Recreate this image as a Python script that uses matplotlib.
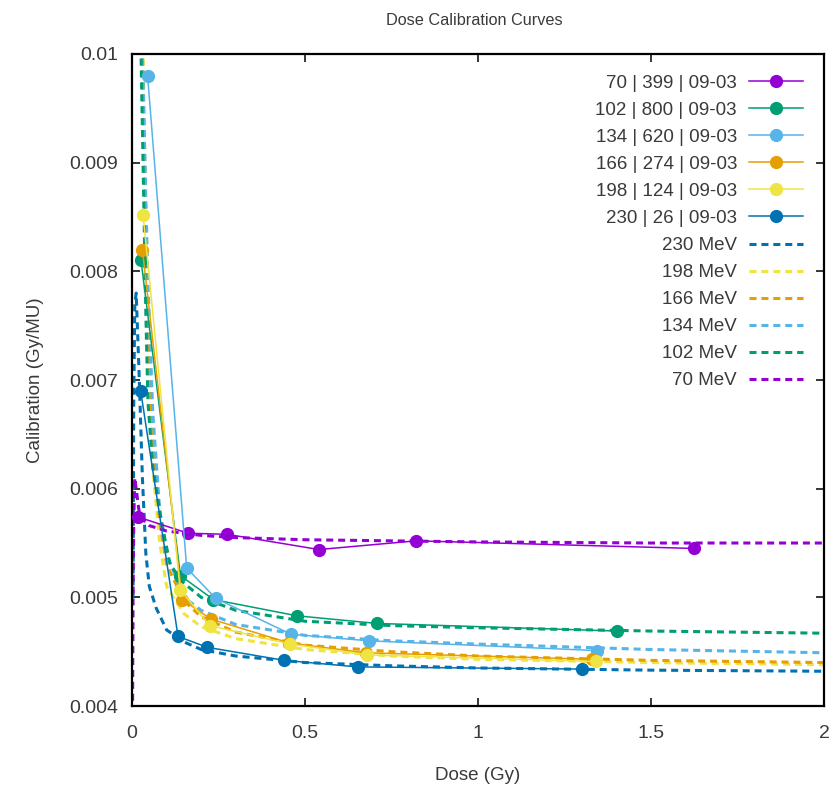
# dose calibration curves: measured points plus fitted curves
import matplotlib

matplotlib.use('Agg')
import matplotlib.pyplot as plt
from matplotlib.ticker import FormatStrFormatter

plt.rcParams['font.family'] = ['Liberation Sans', 'DejaVu Sans']

# gnuplot default line colours
COLORS = {70: '#9400d3', 102: '#009e73', 134: '#56b4e9',
          166: '#e69f00', 198: '#f0e442', 230: '#0072b2'}

# measured points (dose in Gy, calibration in Gy/MU)
meas_labels = ['70 | 399 | 09-03', '102 | 800 | 09-03', '134 | 620 | 09-03',
               '166 | 274 | 09-03', '198 | 124 | 09-03', '230 | 26 | 09-03']
meas_energy = [70, 102, 134, 166, 198, 230]
meas_dose = [
    [0.017, 0.162, 0.275, 0.540, 0.821, 1.624],
    [0.026, 0.14, 0.235, 0.477, 0.708, 1.402],
    [0.045, 0.158, 0.242, 0.46, 0.685, 1.345],
    [0.030, 0.145, 0.228, 0.455, 0.675, 1.33],
    [0.032, 0.139, 0.225, 0.457, 0.68, 1.34],
    [0.025, 0.133, 0.218, 0.44, 0.652, 1.302],
]
meas_cal = [
    [0.00574, 0.00559, 0.00558, 0.00544, 0.00552, 0.00545],
    [0.0081, 0.0052, 0.00498, 0.00483, 0.00476, 0.00469],
    [0.0098, 0.00527, 0.00499, 0.00466, 0.0046, 0.00451],
    [0.0082, 0.00498, 0.0048, 0.00458, 0.00449, 0.00443],
    [0.00852, 0.00507, 0.00474, 0.00457, 0.00447, 0.00441],
    [0.0069, 0.00464, 0.00454, 0.00442, 0.00436, 0.00434],
]

# fitted curves
fit_energy = [230, 198, 166, 134, 102, 70]
fit_dose = [
    [0.003, 0.005, 0.008, 0.012, 0.02, 0.03, 0.04, 0.05, 0.07, 0.1, 0.15,
     0.2, 0.3, 0.5, 0.75, 1.0, 1.5, 2.0],
    [0.028, 0.032, 0.045, 0.06, 0.08, 0.1, 0.15, 0.2, 0.3, 0.5, 0.75, 1.0,
     1.5, 2.0],
    [0.026, 0.03, 0.045, 0.06, 0.08, 0.1, 0.15, 0.2, 0.3, 0.5, 0.75, 1.0,
     1.5, 2.0],
    [0.026, 0.03, 0.045, 0.06, 0.08, 0.1, 0.15, 0.2, 0.3, 0.5, 0.75, 1.0,
     1.5, 2.0],
    [0.02, 0.026, 0.033, 0.04, 0.046, 0.06, 0.085, 0.11, 0.15, 0.2, 0.3,
     0.5, 0.75, 1.0, 1.5, 2.0],
    [0.001, 0.003, 0.005, 0.008, 0.012, 0.02, 0.03, 0.05, 0.1, 0.2, 0.3,
     0.5, 0.75, 1.0, 1.5, 2.0],
]
fit_cal = [
    [0.0050, 0.0068, 0.0077, 0.0078, 0.0071, 0.0061, 0.0054, 0.0051,
     0.0049, 0.0047, 0.00459, 0.00452, 0.00446, 0.0044, 0.00437, 0.00435,
     0.00433, 0.00432],
    [0.0112, 0.0100, 0.0075, 0.0062, 0.0055, 0.0051, 0.00485, 0.00473,
     0.00462, 0.00452, 0.00446, 0.00443, 0.0044, 0.00438],
    [0.0112, 0.0100, 0.0077, 0.0064, 0.0057, 0.0053, 0.00497, 0.00482,
     0.00468, 0.00456, 0.0045, 0.00446, 0.00442, 0.0044],
    [0.0112, 0.0100, 0.0080, 0.0067, 0.0058, 0.0054, 0.0050, 0.00488,
     0.00475, 0.00465, 0.0046, 0.00457, 0.00452, 0.00449],
    [0.0115, 0.0100, 0.0088, 0.0076, 0.0068, 0.0062, 0.0057, 0.0053,
     0.00513, 0.005, 0.00488, 0.00478, 0.00474, 0.00472, 0.00469, 0.00467],
    [0.0035, 0.0050, 0.0057, 0.0061, 0.0060, 0.0058, 0.00572, 0.00566,
     0.00561, 0.00557, 0.00555, 0.00553, 0.00552, 0.00551, 0.0055, 0.0055],
]

x_ticks = [0, 0.5, 1, 1.5, 2]
y_ticks = [0.004, 0.005, 0.006, 0.007, 0.008, 0.009, 0.01]

TEXT_COLOR = '#3a3a3a'


def main():
    fig = plt.figure(figsize=(8.34, 7.87), dpi=100)
    ax = fig.add_axes([0.1583, 0.1029, 0.8297, 0.8285])

    # measured points, thin line with dots
    for i in range(len(meas_labels)):
        ax.plot(meas_dose[i], meas_cal[i], '-', marker='o',
                color=COLORS[meas_energy[i]], lw=1.1, ms=8.5,
                label=meas_labels[i], zorder=3)

    # fitted curves, dashed
    for i in range(len(fit_energy)):
        ax.plot(fit_dose[i], fit_cal[i], color=COLORS[fit_energy[i]],
                lw=2.2, linestyle=(0, (2.3, 1.6)),
                label=str(fit_energy[i]) + ' MeV', zorder=2)

    ax.set_xlim(0, 2)
    ax.set_ylim(0.004, 0.01)
    ax.set_xticks(x_ticks)
    ax.set_yticks(y_ticks)
    ax.xaxis.set_major_formatter(FormatStrFormatter('%g'))
    ax.yaxis.set_major_formatter(FormatStrFormatter('%g'))
    ax.tick_params(direction='in', top=True, right=True, length=6,
                   width=1.1, labelsize=14, labelcolor=TEXT_COLOR)
    ax.tick_params(axis='x', pad=14)
    ax.tick_params(axis='y', pad=10)
    for sp in ax.spines.values():
        sp.set_linewidth(1.6)

    ax.set_title('Dose Calibration Curves', fontsize=11.7, color=TEXT_COLOR,
                 pad=21, x=0.494)
    ax.set_xlabel('Dose (Gy)', fontsize=13.5, color=TEXT_COLOR)
    ax.set_ylabel('Calibration (Gy/MU)', fontsize=13.5, color=TEXT_COLOR)
    ax.xaxis.set_label_coords(0.5, -0.093)
    ax.yaxis.set_label_coords(-0.127, 0.5)

    ax.legend(loc='upper right', frameon=False, markerfirst=False,
              fontsize=13.5, handlelength=2.9, labelspacing=0.53,
              borderaxespad=0.7, handletextpad=0.64,
              labelcolor=TEXT_COLOR)

    fig.savefig('out.png', dpi=100)


if __name__ == '__main__':
    main()
